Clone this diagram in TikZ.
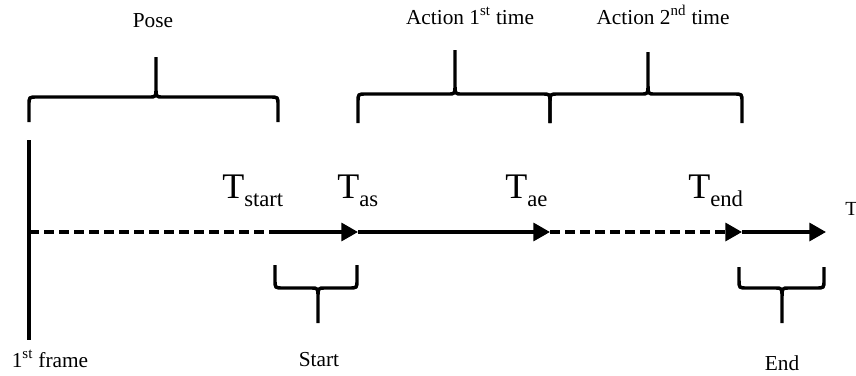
\documentclass[tikz,border=0pt]{standalone}
\usepackage{fontspec}
\setmainfont{Liberation Serif}
\usetikzlibrary{arrows.meta}
\newcommand\mybrace[7]{%
  \draw[bracestyle] ({#1},{#4}) -- ({#1},{#5+(#7)*8}) .. controls ({#1},{#5}) .. ({#1+8},{#5})
    -- ({#2-7},{#5}) .. controls ({#2},{#5}) .. ({#2},{#5-(#7)*9}) -- ({#2},{#6})
    ({#2},{#5-(#7)*9}) .. controls ({#2},{#5}) .. ({#2+7},{#5})
    -- ({#3-8},{#5}) .. controls ({#3},{#5}) .. ({#3},{#5+(#7)*8}) -- ({#3},{#4});}
\begin{document}
\begin{tikzpicture}[x=0.75pt,y=-0.75pt,
  axis/.style={line width=2.5pt},
  dashaxis/.style={line width=2.5pt,dash pattern=on 7.5pt off 3.75pt},
  tip/.style={-{Triangle[length=12.5pt,width=13.5pt]}},
  bracestyle/.style={line width=2.6pt},
  lbl/.style={font=\fontsize{16}{18}\selectfont,inner sep=0pt,anchor=base},
  tl/.style={inner sep=0pt,anchor=base west}]
\useasboundingbox (0,0) rectangle (856,375);
% axis points
\coordinate (a0) at (29,232);
\coordinate (ts) at (275,232);
\coordinate (tas) at (358,232);
\coordinate (tae) at (550,232);
\coordinate (tend) at (742,232);
\coordinate (tT) at (826,232);
\coordinate (vtop) at (29,140);
\coordinate (vbot) at (29,340);
\draw[axis] (vtop) -- (vbot);
\draw[dashaxis] (a0) -- (ts);
\draw[axis,tip] (ts) -- (tas);
\draw[axis,tip] (tas) -- (tae);
\draw[dashaxis,tip] (tae) -- (tend);
\draw[axis,tip] (tend) -- (tT);
% T labels
\newcommand\TL[1]{{\fontsize{27}{28}\selectfont T}\raisebox{-6.5pt}{\fontsize{17}{18}\selectfont #1}}
\node[tl] (Lstart) at (222,198) {\TL{start}};
\node[tl] (Las) at (337,198) {\TL{as}};
\node[tl] (Lae) at (505,198) {\TL{ae}};
\node[tl] (Lend) at (688,198) {\TL{end}};
\node[tl,font=\fontsize{15}{16}\selectfont] (Lt) at (845,215) {T};
% braces
\mybrace{29}{156}{278}{122}{97}{57}{1}
\mybrace{358}{455}{550}{123}{94}{50}{1}
\mybrace{550}{648}{742}{123}{94}{52}{1}
\mybrace{275}{318}{357}{265}{288}{323}{-1}
\mybrace{739}{782}{824}{267}{288}{323}{-1}
% labels
\node[lbl] (pose) at (153,27) {Pose};
\node[lbl] (act1) at (470,24) {Action 1\textsuperscript{st} time};
\node[lbl] (act2) at (663,24) {Action 2\textsuperscript{nd} time};
\node[lbl] (start) at (319,366) {Start};
\node[lbl] (end) at (782,370) {End};
\node[lbl] (frame) at (50,367) {1\textsuperscript{st} frame};
\end{tikzpicture}
\end{document}
